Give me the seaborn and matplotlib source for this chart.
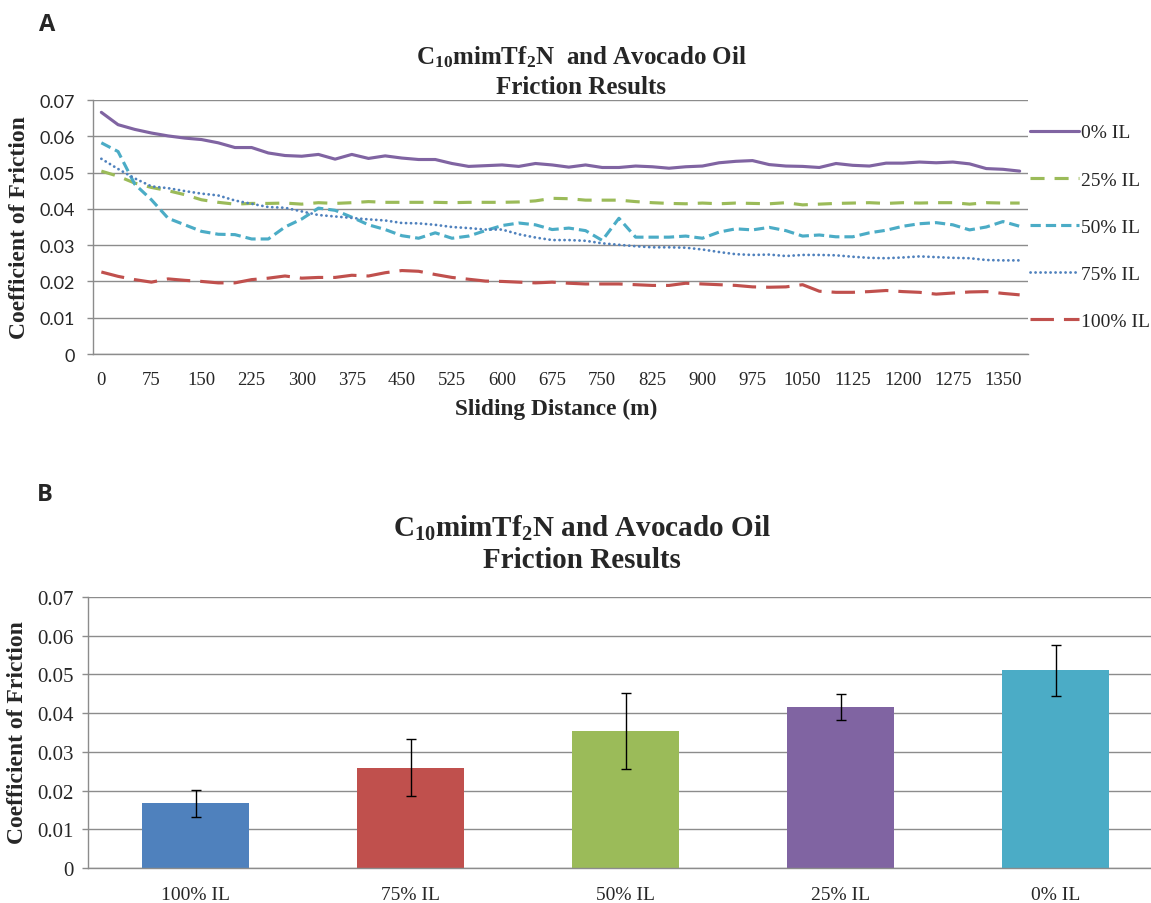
import matplotlib
matplotlib.use("Agg")
import matplotlib.pyplot as plt
import seaborn as sns
import pandas as pd

# sliding distance categories (m)
distance = [0, 25, 50, 75, 100, 125, 150, 175, 200, 225, 250, 275, 300, 325, 350, 375,
            400, 425, 450, 475, 500, 525, 550, 575, 600, 625, 650, 675, 700, 725, 750, 775,
            800, 825, 850, 875, 900, 925, 950, 975, 1000, 1025, 1050, 1075, 1100, 1125, 1150,
            1175, 1200, 1225, 1250, 1275, 1300, 1325, 1350, 1375]

cof_0 = [0.0666, 0.0632, 0.0619, 0.0609, 0.0601, 0.0595, 0.0591, 0.0582, 0.0569, 0.0569,
         0.0554, 0.0547, 0.0545, 0.0550, 0.0537, 0.0550, 0.0539, 0.0546, 0.0540, 0.0536,
         0.0536, 0.0525, 0.0517, 0.0519, 0.0521, 0.0517, 0.0525, 0.0521, 0.0515, 0.0521,
         0.0514, 0.0514, 0.0518, 0.0516, 0.0512, 0.0516, 0.0518, 0.0527, 0.0531, 0.0533,
         0.0522, 0.0518, 0.0517, 0.0514, 0.0525, 0.0520, 0.0518, 0.0526, 0.0526, 0.0529,
         0.0527, 0.0529, 0.0524, 0.0511, 0.0509, 0.0504]
cof_25 = [0.0504, 0.0490, 0.0471, 0.0459, 0.0450, 0.0439, 0.0425, 0.0418, 0.0413, 0.0415,
          0.0415, 0.0416, 0.0413, 0.0417, 0.0415, 0.0417, 0.0420, 0.0418, 0.0418,
          0.0418, 0.0418, 0.0417, 0.0418, 0.0418, 0.0418, 0.0419, 0.0422, 0.0429, 0.0428,
          0.0424, 0.0424, 0.0424, 0.0420, 0.0417, 0.0415, 0.0414, 0.0416,
          0.0414, 0.0416, 0.0415, 0.0414, 0.0417, 0.0411, 0.0413, 0.0415, 0.0416, 0.0417,
          0.0415, 0.0417, 0.0416, 0.0417, 0.0417, 0.0413, 0.0417, 0.0416, 0.0416]
cof_50 = [0.0582, 0.0558, 0.0468, 0.0425, 0.0374, 0.0356, 0.0338, 0.0330, 0.0329, 0.0317,
          0.0317, 0.0350, 0.0372, 0.0402, 0.0396, 0.0377, 0.0356, 0.0343, 0.0326,
          0.0319, 0.0334, 0.0319, 0.0325, 0.0340, 0.0354, 0.0361, 0.0356, 0.0343, 0.0347,
          0.0340, 0.0313, 0.0374, 0.0322, 0.0322, 0.0322, 0.0325, 0.0319,
          0.0336, 0.0345, 0.0342, 0.0349, 0.0340, 0.0325, 0.0328, 0.0323, 0.0323, 0.0334,
          0.0341, 0.0352, 0.0359, 0.0362, 0.0356, 0.0342, 0.0350, 0.0365, 0.0352]
cof_75 = [0.0538, 0.0510, 0.0484, 0.0462, 0.0457, 0.0449, 0.0442, 0.0437, 0.0423, 0.0414,
          0.0405, 0.0403, 0.0393, 0.0383, 0.0379, 0.0375, 0.0371, 0.0368, 0.0361,
          0.0360, 0.0356, 0.0350, 0.0347, 0.0343, 0.0343, 0.0330, 0.0321, 0.0314, 0.0314,
          0.0312, 0.0305, 0.0301, 0.0297, 0.0294, 0.0294, 0.0293, 0.0288,
          0.0281, 0.0275, 0.0273, 0.0274, 0.0270, 0.0273, 0.0273, 0.0272, 0.0268, 0.0265,
          0.0264, 0.0266, 0.0269, 0.0267, 0.0265, 0.0264, 0.0259, 0.0258, 0.0258]
cof_100 = [0.0226, 0.0214, 0.0205, 0.0198, 0.0207, 0.0203, 0.0200, 0.0196, 0.0196, 0.0205,
           0.0209, 0.0215, 0.0209, 0.0211, 0.0211, 0.0217, 0.0215, 0.0224, 0.0230,
           0.0228, 0.0219, 0.0211, 0.0206, 0.0201, 0.0200, 0.0198, 0.0196, 0.0198, 0.0195,
           0.0193, 0.0193, 0.0193, 0.0191, 0.0189, 0.0189, 0.0195, 0.0193,
           0.0191, 0.0189, 0.0185, 0.0184, 0.0185, 0.0191, 0.0173, 0.0170, 0.0170, 0.0172,
           0.0175, 0.0172, 0.0170, 0.0165, 0.0168, 0.0171, 0.0172, 0.0167, 0.0163]

series_names = ["0% IL", "25% IL", "50% IL", "75% IL", "100% IL"]
line_colors = ["#8064A2", "#9BBB59", "#4BACC6", "#4F81BD", "#C0504D"]
x_tick_labels = [0, 75, 150, 225, 300, 375, 450, 525, 600, 675, 750, 825, 900, 975,
                 1050, 1125, 1200, 1275, 1350]
y_ticks = [0, 0.01, 0.02, 0.03, 0.04, 0.05, 0.06, 0.07]
y_tick_labels = ["0", "0.01", "0.02", "0.03", "0.04", "0.05", "0.06", "0.07"]

# bar chart data
bar_cats = ["100% IL", "75% IL", "50% IL", "25% IL", "0% IL"]
bar_means = [0.0167, 0.0259, 0.0354, 0.0416, 0.0511]
bar_errs = [0.0035, 0.0073, 0.0098, 0.0033, 0.0066]
bar_colors = ["#4F81BD", "#C0504D", "#9BBB59", "#8064A2", "#4BACC6"]

sns.set_style("white")
plt.rcParams["mathtext.fontset"] = "custom"
plt.rcParams["mathtext.rm"] = "Liberation Serif:bold"
plt.rcParams["mathtext.it"] = "Liberation Serif:bold"
plt.rcParams["mathtext.bf"] = "Liberation Serif:bold"

grid_col = "#8c8c8c"
serif = "Liberation Serif"

fig = plt.figure(figsize=(11.51, 9.04), dpi=100)
W, H = 1151, 904
ax1 = fig.add_axes([93 / W, 1 - 355 / H, 935 / W, 254 / H])
ax2 = fig.add_axes([88 / W, 1 - 869 / H, 1075 / W, 271 / H])

# ---- A: line chart
df = pd.DataFrame({
    "distance": distance * 5,
    "cof": cof_0 + cof_25 + cof_50 + cof_75 + cof_100,
    "series": sum([[n] * len(distance) for n in series_names], []),
})
dash_map = {"0% IL": "", "25% IL": (4.5, 3.2), "50% IL": (3.3, 1.6),
            "75% IL": (0.05, 1.75), "100% IL": (7.5, 3.2)}
sns.lineplot(data=df, x="distance", y="cof", hue="series", style="series",
             hue_order=series_names, style_order=series_names,
             palette=line_colors, dashes=dash_map, linewidth=2.25, ax=ax1, legend=False)
lines = ax1.lines[:5]
lines[3].set_dash_capstyle("round")
lines[3].set_linewidth(2.0)

ax1.set_xlim(-12.5, 1387.5)
ax1.set_ylim(0, 0.07)
ax1.set_xticks(x_tick_labels)
ax1.set_xticklabels([str(v) for v in x_tick_labels], family=serif, fontsize=13.5)
ax1.set_xticks([-12.5 + 75 * k for k in range(19)], minor=True)
ax1.tick_params(axis="x", which="major", length=0, pad=12)
ax1.tick_params(axis="x", which="minor", length=5, width=1, color=grid_col, direction="out")
ax1.set_yticks(y_ticks)
ax1.set_yticklabels(y_tick_labels, family="Lato", fontsize=13)
ax1.tick_params(axis="y", length=4, width=1, color=grid_col, direction="out", pad=9, left=True)
ax1.grid(axis="y", color=grid_col, linewidth=1)
ax1.grid(axis="x", visible=False)
for s in ["top", "right"]:
    ax1.spines[s].set_visible(False)
for s in ["left", "bottom"]:
    ax1.spines[s].set_color(grid_col)
    ax1.spines[s].set_linewidth(1)
ax1.set_xlabel("")
ax1.set_ylabel("")

ax1.legend(lines, series_names, loc="center left",
           bbox_to_anchor=(1030 / W, 1 - 228 / H), bbox_transform=fig.transFigure,
           frameon=False, borderpad=0, borderaxespad=0, handlelength=2.5,
           handletextpad=0.1, labelspacing=1.52, prop={"family": serif, "size": 14})

fig.text(581 / W, 1 - 57 / H, r"C$_{10}$mimTf$_2$N  and Avocado Oil", ha="center", va="center",
         family=serif, fontweight="bold", fontsize=18)
fig.text(581 / W, 1 - 88 / H, "Friction Results", ha="center", va="center",
         family=serif, fontweight="bold", fontsize=18)
fig.text(20 / W, 1 - 228 / H, "Coefficient of Friction", rotation=90, ha="center", va="center",
         family=serif, fontweight="bold", fontsize=17)
fig.text(556 / W, 1 - 409 / H, "Sliding Distance (m)", ha="center", va="center",
         family=serif, fontweight="bold", fontsize=16.8)
fig.text(47 / W, 1 - 25 / H, "A", ha="center", va="center", family="Open Sans",
         fontweight="bold", fontsize=17)

# ---- B: bar chart
sns.barplot(x=bar_cats, y=bar_means, hue=bar_cats, palette=bar_colors, legend=False,
            width=0.5, errorbar=None, linewidth=0, saturation=1, ax=ax2)
ax2.errorbar(range(len(bar_cats)), bar_means, yerr=bar_errs, fmt="none", ecolor="black",
             elinewidth=1, capsize=3.5, capthick=1)
ax2.set_xlim(-0.5, 4.5)
ax2.set_ylim(0, 0.07)
ax2.set_xticks(range(len(bar_cats)))
ax2.set_xticklabels(bar_cats, family=serif, fontsize=14)
ax2.set_xticks([k - 0.5 for k in range(6)], minor=True)
ax2.tick_params(axis="x", which="major", length=0, pad=13)
ax2.tick_params(axis="x", which="minor", length=6, width=1, color=grid_col, direction="out")
ax2.set_yticks(y_ticks)
ax2.set_yticklabels(y_tick_labels, family=serif, fontsize=15)
ax2.tick_params(axis="y", length=4, width=1, color=grid_col, direction="out", pad=6, left=True)
ax2.grid(axis="y", color=grid_col, linewidth=1)
ax2.grid(axis="x", visible=False)
ax2.set_axisbelow(True)
for s in ["top", "right"]:
    ax2.spines[s].set_visible(False)
for s in ["left", "bottom"]:
    ax2.spines[s].set_color(grid_col)
    ax2.spines[s].set_linewidth(1)
ax2.set_xlabel("")
ax2.set_ylabel("")

fig.text(582 / W, 1 - 528 / H, r"C$_{10}$mimTf$_2$N and Avocado Oil", ha="center", va="center",
         family=serif, fontweight="bold", fontsize=21)
fig.text(582 / W, 1 - 561 / H, "Friction Results", ha="center", va="center",
         family=serif, fontweight="bold", fontsize=21)
fig.text(18 / W, 1 - 733 / H, "Coefficient of Friction", rotation=90, ha="center", va="center",
         family=serif, fontweight="bold", fontsize=17)
fig.text(45 / W, 1 - 495 / H, "B", ha="center", va="center", family="Open Sans",
         fontweight="bold", fontsize=17)

fig.savefig("out.png", dpi=100)
